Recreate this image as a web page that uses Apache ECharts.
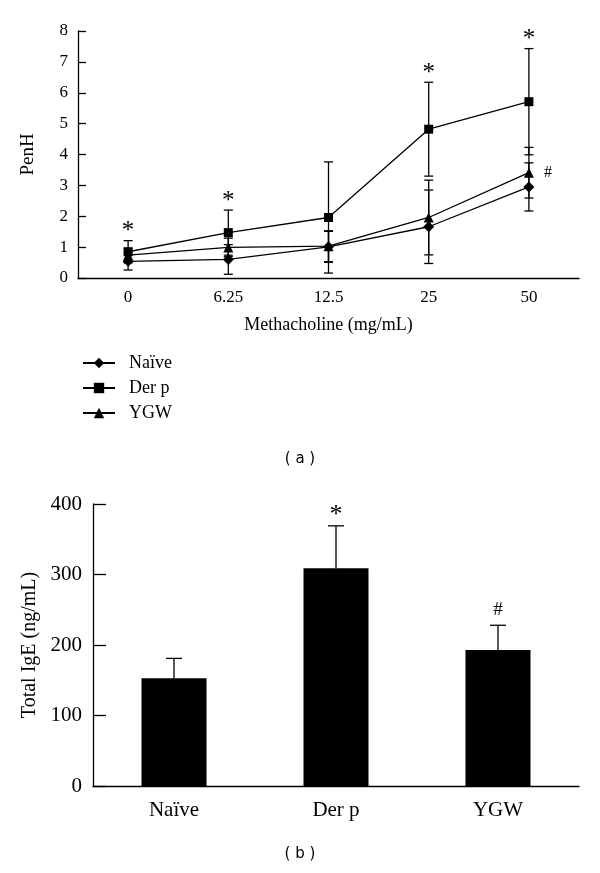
<!DOCTYPE html>
<html><head><meta charset="utf-8">
<script src="https://cdn.jsdelivr.net/npm/echarts@6/dist/echarts.min.js"></script>
<style>html,body{margin:0;padding:0;background:#fff}#c{width:600px;height:873px}</style>
</head><body><div id="c"></div>
<script>
// ---- Panel (a): PenH vs methacholine ----
const doses = ['0', '6.25', '12.5', '25', '50'];
const naive = [0.54, 0.60, 1.01, 1.66, 2.95];
const naiveErr = [0.28, 0.48, 0.50, 1.19, 0.78];
const derp = [0.85, 1.47, 1.96, 4.82, 5.71];
const derpErr = [0.36, 0.73, 1.80, 1.52, 1.72];
const ygw = [0.74, 0.99, 1.03, 1.96, 3.41];
const ygwErr = [0.22, 0.30, 0.50, 1.21, 0.82];
const seriesNames = ['Naïve', 'Der p', 'YGW'];
const derpStarDoses = ['0', '6.25', '25', '50'];
const ygwHashDoses = ['50'];
// ---- Panel (b): Total IgE ----
const groups = ['Naïve', 'Der p', 'YGW'];
const ige = [153, 309, 193];
const igeErr = [28, 60, 35];
const igeMarks = ['', '*', '#'];

const SERIF = 'Liberation Serif';
const axStyle = {color: '#000', width: 1.3};

function errSeries(xi, yi, vals, errs, capHalf, upOnly) {
  return {
    type: 'custom', xAxisIndex: xi, yAxisIndex: yi, z: 5, silent: true,
    data: vals.map((v, i) => [i, upOnly ? v : v - errs[i], v + errs[i]]),
    encode: {x: 0, y: [1, 2]},
    renderItem: (params, api) => {
      const lo = api.coord([api.value(0), api.value(1)]);
      const hi = api.coord([api.value(0), api.value(2)]);
      const st = {stroke: '#000', lineWidth: 1.3};
      const ch = [
        {type: 'line', shape: {x1: hi[0], y1: hi[1], x2: lo[0], y2: lo[1]}, style: st},
        {type: 'line', shape: {x1: hi[0] - capHalf, y1: hi[1], x2: hi[0] + capHalf, y2: hi[1]}, style: st}
      ];
      if (!upOnly) ch.push({type: 'line', shape: {x1: lo[0] - capHalf, y1: lo[1], x2: lo[0] + capHalf, y2: lo[1]}, style: st});
      return {type: 'group', children: ch};
    }
  };
}

function markSeries(xi, yi, pts, fontSize, dx, dy) {
  return {
    type: 'custom', xAxisIndex: xi, yAxisIndex: yi, z: 6, silent: true,
    data: pts.map(p => [p[0], p[1]]),
    encode: {x: 0, y: 1},
    renderItem: (params, api) => {
      const c = api.coord([api.value(0), api.value(1)]);
      return {type: 'text', x: c[0] + dx, y: c[1] + dy,
        style: {text: pts[params.dataIndex][2], fontSize: fontSize, fontFamily: SERIF, fill: '#000', align: 'center', verticalAlign: 'middle'}};
    }
  };
}

const starPts = derpStarDoses.map(d => { const i = doses.indexOf(d); return [i, derp[i] + derpErr[i], '*']; });
const hashPts = ygwHashDoses.map(d => { const i = doses.indexOf(d); return [i, ygw[i], '#']; });
const igeStar = groups.map((g, i) => [i, ige[i] + igeErr[i], igeMarks[i]]).filter(p => p[2] === '*');
const igeHash = groups.map((g, i) => [i, ige[i] + igeErr[i], igeMarks[i]]).filter(p => p[2] === '#');

const chart = echarts.init(document.getElementById('c'), null, {renderer: 'canvas'});
const lineCommon = {type: 'line', xAxisIndex: 0, yAxisIndex: 0, z: 4,
  lineStyle: {color: '#000', width: 1.3}, itemStyle: {color: '#000'}};

chart.setOption({
  animation: false,
  backgroundColor: '#fff',
  grid: [
    {left: 78, right: 21, top: 31, bottom: 595, containLabel: false},
    {left: 93, right: 21, top: 504, bottom: 87, containLabel: false}
  ],
  legend: {
    data: seriesNames, orient: 'vertical', left: 82, top: 354, padding: 0,
    itemWidth: 32, itemHeight: 13, itemGap: 7, selectedMode: false,
    textStyle: {fontFamily: SERIF, fontSize: 18, color: '#000', lineHeight: 18, padding: [0, 0, 0, 9]}
  },
  graphic: [
    {type: 'text', left: 'center', top: 452, style: {text: '( a )', fontFamily: 'DejaVu Sans', fontSize: 15, fill: '#000'}},
    {type: 'text', left: 'center', top: 847, style: {text: '( b )', fontFamily: 'DejaVu Sans', fontSize: 15, fill: '#000'}}
  ],
  xAxis: [
    {type: 'category', gridIndex: 0, data: doses, boundaryGap: true,
      axisLine: {lineStyle: axStyle}, axisTick: {inside: true, length: 10, lineStyle: axStyle},
      axisLabel: {fontFamily: SERIF, fontSize: 17, color: '#000', margin: 11},
      name: 'Methacholine (mg/mL)', nameLocation: 'middle', nameGap: 38,
      nameTextStyle: {fontFamily: SERIF, fontSize: 18, color: '#000'}},
    {type: 'category', gridIndex: 1, data: groups, boundaryGap: true,
      axisLine: {lineStyle: axStyle}, axisTick: {inside: true, length: 13, lineStyle: axStyle},
      axisLabel: {fontFamily: SERIF, fontSize: 21, color: '#000', margin: 14}}
  ],
  yAxis: [
    {type: 'value', gridIndex: 0, min: 0, max: 8, interval: 1,
      axisLine: {show: true, lineStyle: axStyle}, axisTick: {show: true, inside: true, length: 8, lineStyle: axStyle},
      splitLine: {show: false},
      axisLabel: {fontFamily: SERIF, fontSize: 17, color: '#000', margin: 10},
      name: 'PenH', nameLocation: 'middle', nameGap: 40,
      nameTextStyle: {fontFamily: SERIF, fontSize: 19, color: '#000'}},
    {type: 'value', gridIndex: 1, min: 0, max: 400, interval: 100,
      axisLine: {show: true, lineStyle: axStyle}, axisTick: {show: true, inside: true, length: 13, lineStyle: axStyle},
      splitLine: {show: false},
      axisLabel: {fontFamily: SERIF, fontSize: 21, color: '#000', margin: 11},
      name: 'Total IgE (ng/mL)', nameLocation: 'middle', nameGap: 50,
      nameTextStyle: {fontFamily: SERIF, fontSize: 20, color: '#000'}}
  ],
  series: [
    errSeries(0, 0, naive, naiveErr, 4.5, false),
    errSeries(0, 0, derp, derpErr, 4.5, false),
    errSeries(0, 0, ygw, ygwErr, 4.5, false),
    Object.assign({}, lineCommon, {name: seriesNames[0], data: naive, symbol: 'diamond', symbolSize: 11}),
    Object.assign({}, lineCommon, {name: seriesNames[1], data: derp, symbol: 'rect', symbolSize: 9}),
    Object.assign({}, lineCommon, {name: seriesNames[2], data: ygw, symbol: 'triangle', symbolSize: 10}),
    markSeries(0, 0, starPts, 25, 0, -9),
    markSeries(0, 0, hashPts, 16, 19, 0),
    {type: 'bar', name: 'IgE', xAxisIndex: 1, yAxisIndex: 1, data: ige, barWidth: 65,
      itemStyle: {color: '#000'}, z: 3},
    errSeries(1, 1, ige, igeErr, 8, true),
    markSeries(1, 1, igeStar, 26, 0, -11),
    markSeries(1, 1, igeHash, 19, 0, -15)
  ]
});
</script>
</body></html>
